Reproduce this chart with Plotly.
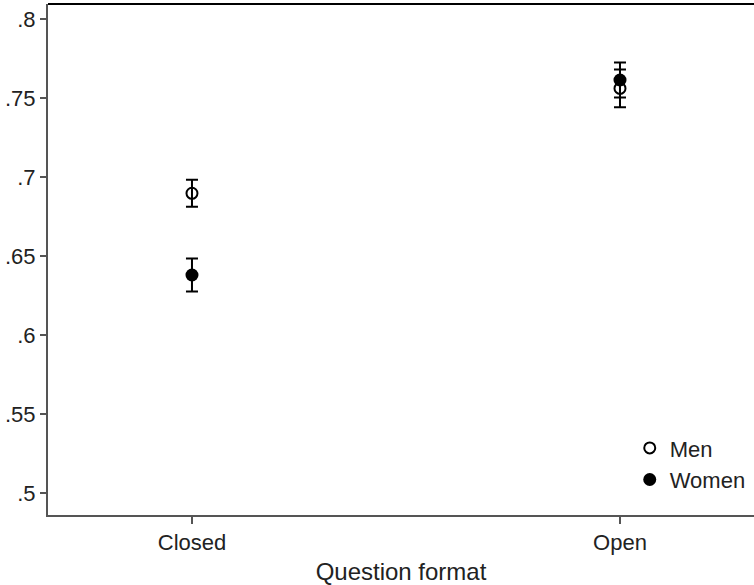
import plotly.graph_objects as go

categories = ["Closed", "Open"]
men_mean = [0.6897, 0.7561]
men_err = [0.0085, 0.012]
women_mean = [0.6380, 0.7614]
women_err = [0.0105, 0.011]
ytick_vals = [0.5, 0.55, 0.6, 0.65, 0.7, 0.75, 0.8]
ytick_text = [".5", ".55", ".6", ".65", ".7", ".75", ".8"]

FONT = "Liberation Sans, Arial, sans-serif"

fig = go.Figure()
fig.add_trace(go.Scatter(
    x=categories, y=men_mean, mode="markers", name="Men",
    marker=dict(symbol="circle-open", size=11, color="black", line=dict(width=2, color="black")),
    error_y=dict(type="data", array=men_err, visible=True, color="black", thickness=2, width=6),
))
fig.add_trace(go.Scatter(
    x=categories, y=women_mean, mode="markers", name="Women",
    marker=dict(symbol="circle", size=13, color="black"),
    error_y=dict(type="data", array=women_err, visible=True, color="black", thickness=2, width=6),
))

fig.update_layout(
    width=754, height=585,
    margin=dict(l=48, r=0, t=4, b=70),
    paper_bgcolor="white", plot_bgcolor="white",
    font=dict(family=FONT, size=22, color="#222"),
    showlegend=True,
    legend=dict(x=0.824, y=0.172, xanchor="left", yanchor="top",
                bgcolor="rgba(0,0,0,0)", font=dict(size=22, color="#222")),
    xaxis=dict(type="category", range=[-0.3364, 1.3131], showgrid=False, zeroline=False,
               showline=True, linecolor="#555", linewidth=2, mirror=False,
               ticks="outside", ticklen=7, tickwidth=2, tickcolor="#555",
               tickfont=dict(size=22),
               title=dict(text="Question format", font=dict(size=24, color="#222"), standoff=9)),
    yaxis=dict(range=[0.4861, 0.8095], showgrid=False, zeroline=False,
               showline=True, linecolor="#555", linewidth=2, mirror=False,
               ticks="outside", ticklen=6, tickwidth=2, tickcolor="#555",
               tickfont=dict(size=22),
               tickvals=ytick_vals, ticktext=ytick_text),
    shapes=[dict(type="line", xref="paper", yref="paper", x0=0, x1=1, y0=1, y1=1,
                 line=dict(color="black", width=2))],
)

fig.write_html("out.html", config={"displayModeBar": False},
               post_script="document.body.style.margin='0';document.body.style.overflow='hidden';")
